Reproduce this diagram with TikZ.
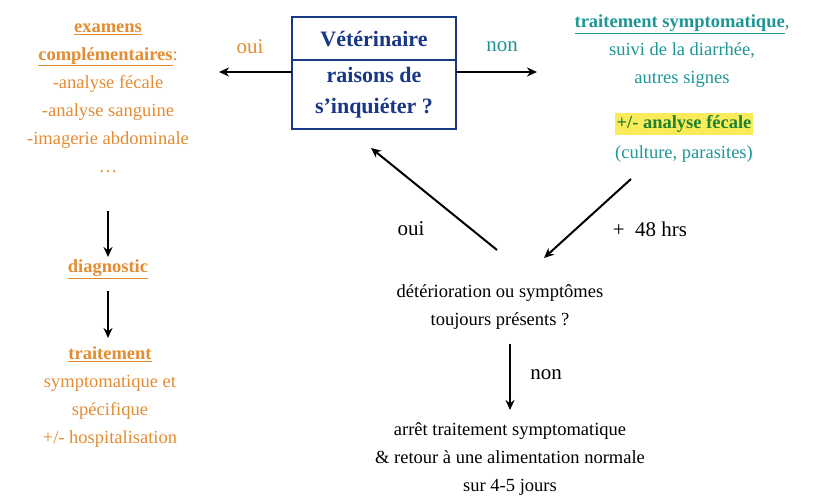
\documentclass[tikz,border=0pt]{standalone}
\usepackage{fontspec}
\setmainfont{Liberation Serif}
\usetikzlibrary{positioning,arrows.meta}
\definecolor{orng}{RGB}{228,140,50}
\definecolor{teal2}{RGB}{30,150,150}
\definecolor{navy}{RGB}{25,55,135}
\definecolor{grn}{RGB}{30,130,50}
\definecolor{hilite}{RGB}{250,235,90}
\tikzset{
  txt/.style={align=center, font=\fontsize{18.5}{28}\selectfont},
  orng/.style={txt, text=orng},
  tl/.style={txt, text=teal2},
  arr/.style={-{Stealth[length=10pt,width=9pt]}, line width=2pt}
}
\begin{document}
\begin{tikzpicture}[x=1pt, y=-1pt]
      \useasboundingbox (0,0) rectangle (836,502);
      % central box
      \draw[navy, line width=2.5pt] (292,17) rectangle (456,129);
      \draw[navy, line width=2.5pt] (292,60) -- (456,60);
      \node[txt, text=navy, font=\fontsize{22}{31}\selectfont\bfseries] (vet) at (374,39) {Vétérinaire};
      \node[txt, text=navy, font=\fontsize{22}{31}\selectfont\bfseries] (rais) at (374,93) {raisons de\\s’inquiéter ?};
      \coordinate (boxl) at (292,72);
      \coordinate (boxr) at (456,72);
      % left branch
      \node[orng] (exam) at (108,98) {\textbf{\underline{examens}}\\\textbf{\underline{complémentaires}}:\\-analyse fécale\\-analyse sanguine\\-imagerie abdominale\\\ldots};
      \node[orng] (diag) at (108,269) {\textbf{\underline{diagnostic}}};
      \node[orng] (trait) at (110,397) {\textbf{\underline{traitement}}\\symptomatique et\\spécifique\\+/- hospitalisation};
      \node[orng, font=\fontsize{21}{28}\selectfont] (oui1) at (250,47) {oui};
      \draw[arr] (boxl) -- (219,72);
      \draw[arr] (108,211) -- (108,257);
      \draw[arr] (108,291) -- (108,338);
      % right branch
      \node[tl] (sympt) at (682,51) {\textbf{\underline{traitement symptomatique}},\\suivi de la diarrhée,\\autres signes};
      \node[txt, text=grn, fill=hilite, inner sep=2pt, font=\fontsize{18.5}{28}\selectfont\bfseries] (fec) at (684,124) {+/- analyse fécale};
      \node[tl] (cult) at (684,154) {(culture, parasites)};
      \node[tl, font=\fontsize{21}{28}\selectfont] (non1) at (502,47) {non};
      \draw[arr] (boxr) -- (537,72);
      % bottom
      \node[txt] (det) at (500,307) {détérioration ou symptômes\\toujours présents ?};
      \node[txt] (arret) at (510,459) {arrêt traitement symptomatique\\\& retour à une alimentation normale\\sur 4-5 jours};
      \node[txt, font=\fontsize{21}{28}\selectfont] (oui2) at (411,229) {oui};
      \node[txt, font=\fontsize{21}{28}\selectfont] (hrs) at (650,229) {+\enspace 48 hrs};
      \node[txt, font=\fontsize{21}{28}\selectfont] (non2) at (546,375) {non};
      \draw[arr] (631,179) -- (544,258);
      \draw[arr] (497,250) -- (371,148);
      \draw[arr] (510,344) -- (510,410);
\end{tikzpicture}
\end{document}
